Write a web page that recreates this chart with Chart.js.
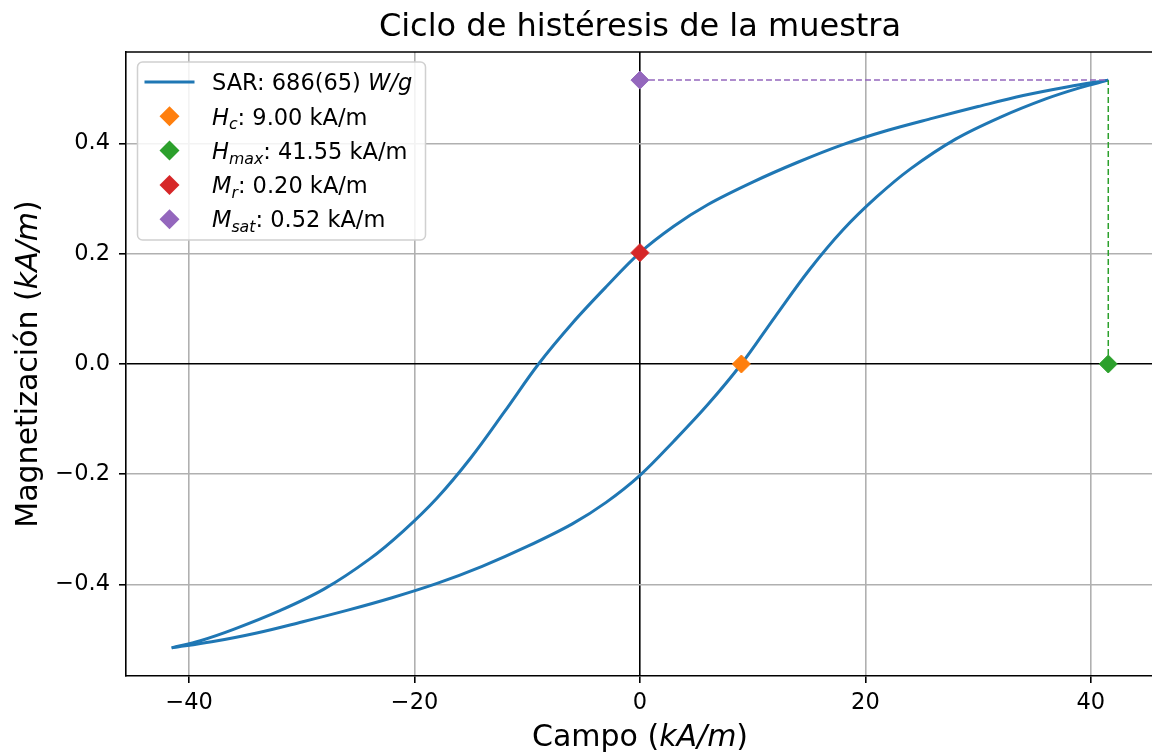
<!DOCTYPE html>
<html>
<head>
<meta charset="utf-8">
<script src="https://cdn.jsdelivr.net/npm/chart.js@4.4.1/dist/chart.umd.min.js"></script>
<style>
  html, body { margin: 0; padding: 0; background: #fff; overflow: hidden; }
  #wrap { width: 1152px; height: 756px; position: relative; }
</style>
</head>
<body>
<div id="wrap"><canvas id="loopChart"></canvas></div>
<script>
// rama superior (campo decreciente) y rama inferior (campo creciente)
const upperField = [41.55, 38, 34, 30, 26, 22, 18, 14, 10, 6, 3, 0, -3, -6, -9, -12, -15, -18, -21, -24, -28, -32, -36, -39, -41.55];
const upperMag   = [0.515, 0.503, 0.487, 0.467, 0.446, 0.424, 0.398, 0.366, 0.330, 0.289, 0.250, 0.202, 0.140, 0.074, 0.0, -0.086, -0.170, -0.243, -0.303, -0.354, -0.408, -0.448, -0.481, -0.502, -0.515];
const lowerField = [-41.55, -38, -34, -30, -26, -22, -18, -14, -10, -6, -3, 0, 3, 6, 9, 12, 15, 18, 21, 24, 28, 32, 36, 39, 41.55];
const lowerMag   = [-0.515, -0.504, -0.488, -0.468, -0.447, -0.424, -0.398, -0.367, -0.331, -0.290, -0.251, -0.202, -0.140, -0.074, 0.0, 0.086, 0.170, 0.243, 0.303, 0.354, 0.408, 0.448, 0.481, 0.501, 0.515];

const coercive = 9.00;
const fieldMax = 41.55;
const remanence = 0.202;
const saturation = 0.515;

const xTicks = [-40, -20, 0, 20, 40];
const xTickLabels = ["\u221240", "\u221220", "0", "20", "40"];
const yTicks = [-0.4, -0.2, 0.0, 0.2, 0.4];
const yTickLabels = ["\u22120.4", "\u22120.2", "0.0", "0.2", "0.4"];

const titleText = "Ciclo de histéresis de la muestra";
const xLabelRuns = [["Campo (", false], ["kA/m", true], [")", false]];
const yLabelRuns = [["Magnetización (", false], ["kA/m", true], [")", false]];

// etiquetas de la leyenda: [texto, cursiva, subíndice]
const legendRows = [
    [["SAR: 686(65) ", false, false], ["W/g", true, false]],
    [["H", true, false], ["c", true, true], [": 9.00 kA/m", false, false]],
    [["H", true, false], ["max", true, true], [": 41.55 kA/m", false, false]],
    [["M", true, false], ["r", true, true], [": 0.20 kA/m", false, false]],
    [["M", true, false], ["sat", true, true], [": 0.52 kA/m", false, false]],
];

const BLUE = "#1f77b4";
const ORANGE = "#ff7f0e";
const GREEN = "#2ca02c";
const RED = "#d62728";
const PURPLE = "#9467bd";
const legendColors = [BLUE, ORANGE, GREEN, RED, PURPLE];

const FONT = '"DejaVu Sans", "Noto Sans", sans-serif';

function toPoints(xs, ys) {
    return xs.map((x, i) => ({ x, y: ys[i] }));
}

function font(size, italic) {
    return `${italic ? "italic " : ""}${size}px ${FONT}`;
}

function runsWidth(ctx, runs, size) {
    let w = 0;
    runs.forEach(([text, italic, sub]) => {
        ctx.font = font(sub ? size * 0.7 : size, italic);
        w += ctx.measureText(text).width;
    });
    return w;
}

function drawRuns(ctx, runs, x, y, size) {
    let cx = x;
    runs.forEach(([text, italic, sub]) => {
        ctx.font = font(sub ? size * 0.7 : size, italic);
        ctx.fillText(text, cx, sub ? y + size * 0.22 : y);
        cx += ctx.measureText(text).width;
    });
}

function markerSet(label, point, color) {
    return {
        label,
        data: [point],
        pointStyle: "rectRot",
        pointRadius: 9,
        backgroundColor: color,
        borderColor: color,
        borderWidth: 1,
        showLine: false,
        order: 0,
    };
}

function branchSet(label, xs, ys) {
    return {
        label,
        data: toPoints(xs, ys),
        showLine: true,
        borderColor: BLUE,
        borderWidth: 3,
        pointRadius: 0,
        tension: 0.35,
        order: 2,
    };
}

const decorations = {
    id: "decorations",
    afterDraw(chart) {
        const { ctx, chartArea } = chart;
        ctx.save();
        ctx.fillStyle = "#000";
        ctx.textBaseline = "alphabetic";

        // marco superior
        ctx.strokeStyle = "#000";
        ctx.lineWidth = 1.6;
        ctx.beginPath();
        ctx.moveTo(chartArea.left, chartArea.top);
        ctx.lineTo(chartArea.right + 2, chartArea.top);
        ctx.stroke();

        // título
        ctx.font = font(32, false);
        ctx.textAlign = "center";
        ctx.fillText(titleText, 640, 36);
        ctx.textAlign = "left";

        // etiqueta eje x
        const xl = xLabelRuns.map(([t, it]) => [t, it, false]);
        const xw = runsWidth(ctx, xl, 30);
        drawRuns(ctx, xl, 640 - xw / 2, 746, 30);

        // etiqueta eje y
        const yl = yLabelRuns.map(([t, it]) => [t, it, false]);
        const yw = runsWidth(ctx, yl, 30);
        ctx.save();
        ctx.translate(37, 364);
        ctx.rotate(-Math.PI / 2);
        drawRuns(ctx, yl, -yw / 2, 0, 30);
        ctx.restore();

        // leyenda
        const bx = chartArea.left + 11.5;
        const by = chartArea.top + 10;
        const bw = 288;
        const bh = 178;
        ctx.fillStyle = "rgba(255,255,255,0.85)";
        ctx.strokeStyle = "#d0d0d0";
        ctx.lineWidth = 1.5;
        ctx.beginPath();
        ctx.roundRect(bx, by, bw, bh, 5);
        ctx.fill();
        ctx.stroke();

        legendRows.forEach((runs, i) => {
            const ry = by + 20 + i * 34.3;
            if (i === 0) {
                ctx.strokeStyle = BLUE;
                ctx.lineWidth = 3;
                ctx.beginPath();
                ctx.moveTo(bx + 7, ry);
                ctx.lineTo(bx + 57, ry);
                ctx.stroke();
            } else {
                const cx = bx + 32;
                const r = 10;
                ctx.fillStyle = legendColors[i];
                ctx.beginPath();
                ctx.moveTo(cx - r, ry);
                ctx.lineTo(cx, ry - r);
                ctx.lineTo(cx + r, ry);
                ctx.lineTo(cx, ry + r);
                ctx.closePath();
                ctx.fill();
            }
            ctx.fillStyle = "#000";
            drawRuns(ctx, runs, bx + 74.5, ry + 8.2, 22.5);
        });

        ctx.restore();
    },
};

const ctx = document.getElementById("loopChart");

new Chart(ctx, {
    type: "scatter",
    data: {
        datasets: [
            branchSet("SAR", upperField, upperMag),
            branchSet("SAR inferior", lowerField, lowerMag),
            {
                label: "Msat guía",
                data: [{ x: 0, y: saturation }, { x: fieldMax, y: saturation }],
                showLine: true,
                borderColor: PURPLE,
                borderWidth: 1.5,
                borderDash: [6, 3],
                pointRadius: 0,
                order: 1,
            },
            {
                label: "Hmax guía",
                data: [{ x: fieldMax, y: 0 }, { x: fieldMax, y: saturation }],
                showLine: true,
                borderColor: GREEN,
                borderWidth: 1.5,
                borderDash: [6, 3],
                pointRadius: 0,
                order: 1,
            },
            markerSet("Hc", { x: coercive, y: 0 }, ORANGE),
            markerSet("Hmax", { x: fieldMax, y: 0 }, GREEN),
            markerSet("Mr", { x: 0, y: remanence }, RED),
            markerSet("Msat", { x: 0, y: saturation }, PURPLE),
        ],
    },
    options: {
        responsive: true,
        maintainAspectRatio: false,
        animation: false,
        layout: { autoPadding: false, padding: { top: 52, left: 0, right: 0, bottom: 0 } },
        plugins: {
            legend: { display: false },
            tooltip: { enabled: false },
            title: { display: false },
        },
        scales: {
            x: {
                type: "linear",
                min: -45.6,
                max: 45.43,
                afterBuildTicks: (scale) => { scale.ticks = xTicks.map((value) => ({ value })); },
                afterFit: (scale) => {
                    scale.height = 80;
                    scale.paddingLeft = 0;
                    scale.paddingRight = 0;
                },
                ticks: {
                    color: "#000",
                    font: { family: FONT, size: 22.5 },
                    padding: 7,
                    maxRotation: 0,
                    callback: (value) => xTickLabels[xTicks.indexOf(value)],
                },
                grid: {
                    color: (c) => (c.tick && c.tick.value === 0 ? "#000" : "#b0b0b0"),
                    lineWidth: 1.6,
                    tickColor: "#000",
                    tickLength: 7,
                    tickWidth: 1.6,
                },
                border: { display: true, color: "#000", width: 1.6 },
            },
            y: {
                type: "linear",
                min: -0.566,
                max: 0.566,
                afterBuildTicks: (scale) => { scale.ticks = yTicks.map((value) => ({ value })); },
                afterFit: (scale) => {
                    scale.width = 126;
                    scale.paddingTop = 0;
                    scale.paddingBottom = 0;
                },
                ticks: {
                    color: "#000",
                    font: { family: FONT, size: 22.5 },
                    padding: 9,
                    callback: (value) => yTickLabels[yTicks.findIndex((t) => Math.abs(t - value) < 1e-9)],
                },
                grid: {
                    color: (c) => (c.tick && Math.abs(c.tick.value) < 1e-9 ? "#000" : "#b0b0b0"),
                    lineWidth: 1.6,
                    tickColor: "#000",
                    tickLength: 7,
                    tickWidth: 1.6,
                },
                border: { display: true, color: "#000", width: 1.6 },
            },
        },
    },
    plugins: [decorations],
});
</script>
</body>
</html>
